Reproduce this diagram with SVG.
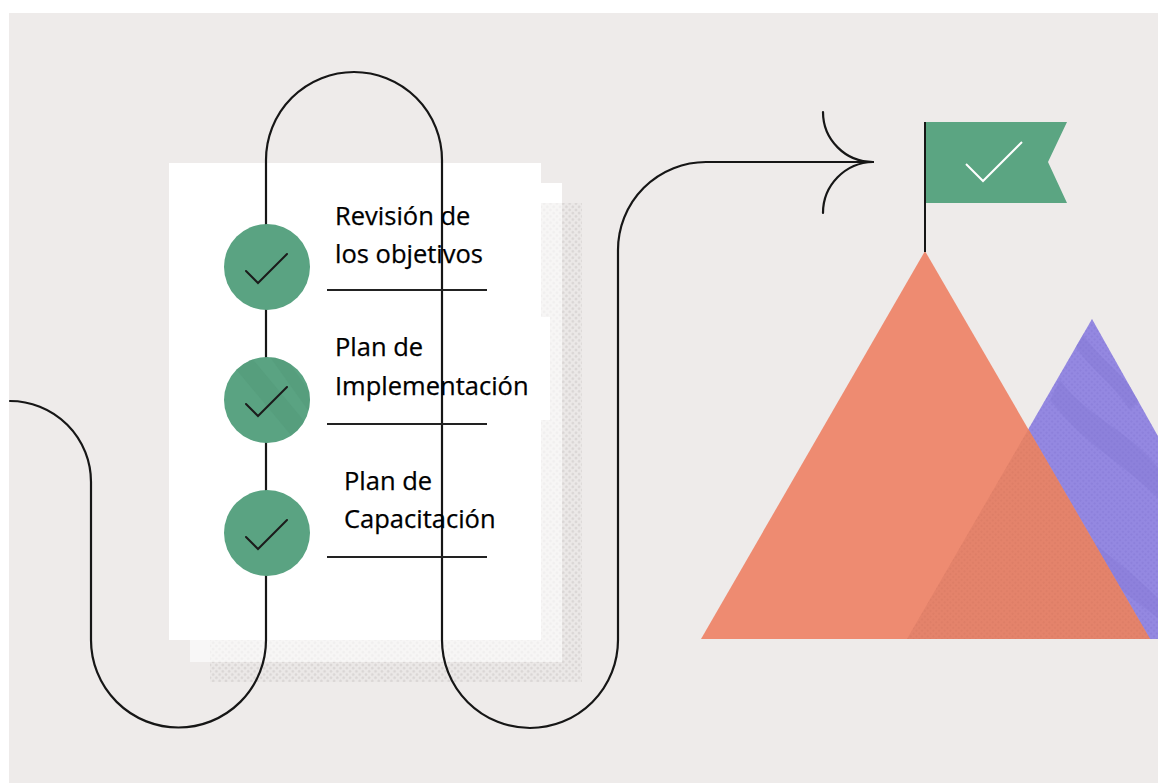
<svg xmlns="http://www.w3.org/2000/svg" width="1158" height="783" viewBox="0 0 1158 783">
  <defs>
    <style>
      .route { fill: none; stroke: #161616; stroke-width: 2.2; stroke-linecap: round; }
      .tick { fill: none; stroke: #1b1b1b; stroke-width: 2; stroke-linecap: round; stroke-linejoin: miter; }
      .dot { fill: #5aa382; }
      .label { font-family: "Open Sans", "Liberation Sans", sans-serif; font-size: 25.5px; fill: #000; stroke: #000; stroke-width: 0.25; }
      .rule { stroke: #222; stroke-width: 2; }
    </style>
    <!-- halftone dots for the paper shadow -->
    <pattern id="halftone" width="4.5" height="4.5" patternUnits="userSpaceOnUse" patternTransform="rotate(45)">
      <circle cx="2.25" cy="2.25" r="1.3" fill="#d9d5d4"/>
    </pattern>
    <pattern id="halftoneWarm" width="4" height="4" patternUnits="userSpaceOnUse" patternTransform="rotate(45)">
      <circle cx="2" cy="2" r="1.1" fill="#d4765f" opacity="0.5"/>
    </pattern>
    <pattern id="halftoneCool" width="4" height="4" patternUnits="userSpaceOnUse" patternTransform="rotate(45)">
      <circle cx="2" cy="2" r="1.1" fill="#7d70d0" opacity="0.4"/>
    </pattern>
    <clipPath id="purpleClip">
      <polygon points="1092,319 1272,639 907,639"/>
    </clipPath>
    <clipPath id="circle2Clip">
      <circle cx="267" cy="400" r="43"/>
    </clipPath>
  </defs>

  <!-- backdrop -->
  <rect x="0" y="0" width="1158" height="783" fill="#ffffff"/>
  <rect x="9" y="13" width="1149" height="770" fill="#eeebea"/>

  <!-- stacked sheets -->
  <g id="paper">
    <rect x="210" y="203" width="372" height="479" fill="#ebe8e7"/>
    <rect x="210" y="203" width="372" height="479" fill="url(#halftone)"/>
    <rect x="190" y="183" width="372" height="479" fill="#ffffff" opacity="0.6"/>
    <rect x="190" y="183" width="372" height="20" fill="#ffffff"/>
    <rect x="169" y="163" width="372" height="477" fill="#ffffff"/>
    <rect x="541" y="317" width="9" height="103" fill="#ffffff"/>
  </g>

  <!-- mountains -->
  <g id="mountains">
    <polygon points="1092,319 1272,639 907,639" fill="#9488e1"/>
    <g clip-path="url(#purpleClip)">
      <path d="M1060,380 C1090,420 1130,430 1160,470 L1160,500 C1120,460 1090,450 1050,400 Z" fill="#8579d4" opacity="0.45"/>
      <path d="M1010,470 C1050,520 1100,540 1160,600 L1160,620 C1100,570 1050,550 1000,500 Z" fill="#8579d4" opacity="0.4"/>
      <path d="M1080,330 C1100,360 1120,370 1140,400 L1130,410 C1110,380 1090,370 1075,345 Z" fill="#8579d4" opacity="0.45"/>
      <rect x="900" y="310" width="380" height="340" fill="url(#halftoneCool)"/>
    </g>
    <polygon points="925,251 1150,639 701,639" fill="#ee8b71"/>
    <polygon points="1028.4,429.2 1150,639 907,639" fill="#e4836b"/>
    <polygon points="1028.4,429.2 1150,639 907,639" fill="url(#halftoneWarm)"/>
  </g>

  <!-- connectors -->
  <g id="connectors">
    <path class="route" d="M10,401 A81,81 0 0 1 91,482 V640 A87.5,87.5 0 0 0 266,640 V160 A88,88 0 0 1 442,160 V640 A88,88 0 0 0 618,640 V250 A88,88 0 0 1 706,162 H873"/>
    <path class="route" d="M823,112 A50,50 0 0 0 873,162"/>
    <path class="route" d="M823,213 A51,51 0 0 1 873,162"/>
  </g>

  <!-- goal flag -->
  <g id="flag">
    <line x1="925" y1="122" x2="925" y2="252" stroke="#161616" stroke-width="2"/>
    <polygon points="926,122 1067,122 1048,162 1067,203 926,203" fill="#5ba582"/>
    <polyline points="966,164 983,181 1022,142" fill="none" stroke="#ffffff" stroke-width="2"/>
  </g>

  <!-- checklist steps -->
  <g id="step-objetivos">
    <circle class="dot" cx="267" cy="267" r="43"/>
    <polyline class="tick" points="246,271 258,283 287,254"/>
    <text class="label" x="335" y="225">Revisión de</text>
    <text class="label" x="335" y="263">los objetivos</text>
    <line class="rule" x1="327" y1="290" x2="487" y2="290"/>
  </g>

  <g id="step-implementacion">
    <circle class="dot" cx="267" cy="400" r="43"/>
    <g clip-path="url(#circle2Clip)">
      <polygon points="220,350 245,350 320,440 295,440" fill="#4f9675" opacity="0.4"/>
      <polygon points="265,350 280,350 330,420 315,420" fill="#4f9675" opacity="0.35"/>
    </g>
    <polyline class="tick" points="246,404 258,416 287,387"/>
    <text class="label" x="335" y="356">Plan de</text>
    <text class="label" x="335" y="395">Implementación</text>
    <line class="rule" x1="327" y1="424" x2="487" y2="424"/>
  </g>

  <g id="step-capacitacion">
    <circle class="dot" cx="267" cy="533" r="43"/>
    <polyline class="tick" points="246,537 258,549 287,520"/>
    <text class="label" x="344" y="490">Plan de</text>
    <text class="label" x="344" y="528">Capacitación</text>
    <line class="rule" x1="327" y1="557" x2="487" y2="557"/>
  </g>
</svg>
